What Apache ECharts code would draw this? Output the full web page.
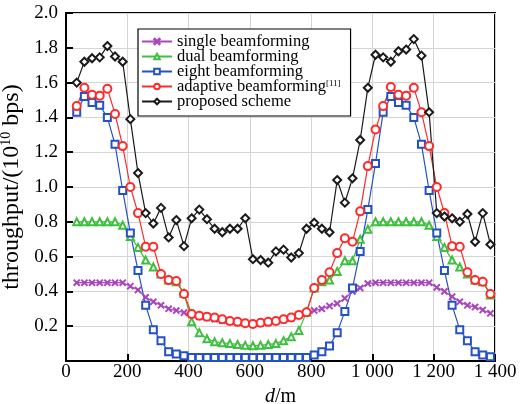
<!DOCTYPE html>
<html>
<head>
<meta charset="utf-8">
<script src="https://cdn.jsdelivr.net/npm/echarts@6/dist/echarts.min.js"></script>
<style>
  html, body { margin: 0; padding: 0; background: #fff; }
  #chart { width: 520px; height: 404px; }
</style>
</head>
<body>
<div id="chart"></div>
<script>
// distance d (m) of every sample
const distances = [35, 60, 85, 110, 135, 160, 185, 210, 235, 260, 285, 310, 335, 360, 385,
  410, 435, 460, 485, 510, 535, 560, 585, 610, 635, 660, 685, 710, 735, 760, 785,
  810, 835, 860, 885, 910, 935, 960, 985, 1010, 1035, 1060, 1085, 1110, 1135, 1160,
  1185, 1210, 1235, 1260, 1285, 1310, 1335, 1360, 1385];

const singleBf = [0.45, 0.45, 0.45, 0.45, 0.45, 0.45, 0.45, 0.43, 0.408, 0.366, 0.34, 0.32, 0.30, 0.29, 0.278,
  0.265, 0.255, 0.248, 0.24, 0.232, 0.225, 0.22, 0.215, 0.212, 0.215, 0.22, 0.226, 0.235, 0.245, 0.26, 0.275,
  0.29, 0.30, 0.316, 0.33, 0.36, 0.40, 0.42, 0.445,
  0.45, 0.45, 0.45, 0.45, 0.45, 0.45, 0.45, 0.45, 0.423, 0.40, 0.37, 0.34, 0.32, 0.31, 0.293, 0.274];

const dualBf = [0.80, 0.80, 0.80, 0.80, 0.80, 0.80, 0.78, 0.715, 0.653, 0.58, 0.54, 0.50, 0.465, 0.455, 0.39,
  0.226, 0.163, 0.128, 0.11, 0.105, 0.10, 0.095, 0.09, 0.088, 0.09, 0.095, 0.10, 0.117, 0.14, 0.176, 0.28,
  0.42, 0.455, 0.465, 0.515, 0.576, 0.576, 0.70, 0.757,
  0.80, 0.80, 0.80, 0.80, 0.80, 0.80, 0.80, 0.78, 0.715, 0.653, 0.58, 0.54, 0.50, 0.465, 0.455, 0.38];

const eightBf = [1.43, 1.52, 1.485, 1.47, 1.40, 1.245, 0.98, 0.735, 0.52, 0.32, 0.18, 0.117, 0.053, 0.04, 0.03,
  0.02, 0.02, 0.02, 0.02, 0.02, 0.02, 0.02, 0.02, 0.02, 0.02, 0.02, 0.02, 0.02, 0.02, 0.02, 0.02,
  0.035, 0.053, 0.086, 0.163, 0.285, 0.42, 0.63, 0.87, 1.135,
  1.43, 1.52, 1.485, 1.47, 1.40, 1.245, 0.98, 0.735, 0.52, 0.32, 0.18, 0.117, 0.053, 0.035, 0.025];

const adaptiveBf = [1.465, 1.57, 1.53, 1.525, 1.565, 1.42, 1.235, 1.0, 0.85, 0.657, 0.657, 0.50, 0.465, 0.46, 0.385,
  0.27, 0.26, 0.255, 0.25, 0.24, 0.23, 0.225, 0.217, 0.213, 0.22, 0.225, 0.23, 0.24, 0.25, 0.265, 0.28,
  0.42, 0.465, 0.51, 0.62, 0.705, 0.685, 0.86, 1.12, 1.33,
  1.465, 1.575, 1.53, 1.525, 1.57, 1.43, 1.235, 1.0, 0.85, 0.66, 0.657, 0.51, 0.465, 0.455, 0.385];

const proposed = [1.60, 1.72, 1.74, 1.745, 1.81, 1.75, 1.72, 1.39, 1.08, 0.85, 0.79, 0.88, 0.71, 0.81, 0.66,
  0.82, 0.87, 0.815, 0.76, 0.74, 0.76, 0.76, 0.82, 0.585, 0.58, 0.565, 0.63, 0.64, 0.595, 0.62, 0.76,
  0.795, 0.76, 0.74, 1.04, 0.91, 1.05, 1.27, 1.57, 1.76, 1.745, 1.72, 1.78, 1.79, 1.85, 1.755,
  1.43, 0.85, 0.83, 0.82, 0.80, 0.845, 0.685, 0.85, 0.67];

const seriesNames = ['single beamforming', 'dual beamforming', 'eight beamforming',
  'adaptive beamforming', 'proposed scheme'];
const xTickLabels = ['0', '200', '400', '600', '800', '1 000', '1 200', '1 400'];
const yTickLabels = ['', '0.2', '0.4', '0.6', '0.8', '1.0', '1.2', '1.4', '1.6', '1.8', '2.0'];

const FONT = '"Liberation Serif", "DejaVu Serif", serif';
const crossPath = 'path://M0,1L1,0L5,4L9,0L10,1L6,5L10,9L9,10L5,6L1,10L0,9L4,5Z';

const pairs = ys => distances.map((d, i) => [d, ys[i]]);

function lineSeries(name, ys, color, symbol, size) {
  return {
    name: name,
    type: 'line',
    data: pairs(ys),
    symbol: symbol,
    symbolSize: size,
    color: color,
    lineStyle: {width: 1.2, color: color},
    itemStyle: {color: color, borderColor: color, borderWidth: 1.1},
    animation: false
  };
}

const chart = echarts.init(document.getElementById('chart'));
chart.setOption({
  backgroundColor: '#fff',
  animation: false,
  textStyle: {fontFamily: FONT},
  grid: {
    left: 66, right: 25, top: 13, bottom: 43,
    outerBoundsMode: 'none',
    containLabel: false,
    show: true, borderColor: '#000', borderWidth: 2
  },
  legend: {
    orient: 'vertical',
    left: 138, top: 29,
    padding: [4, 10, 6, 3],
    itemGap: -2,
    itemWidth: 30,
    itemHeight: 7,
    backgroundColor: '#fff',
    borderColor: '#000',
    borderWidth: 1.2,
    borderRadius: 0,
    data: seriesNames,
    formatter: name => name === 'adaptive beamforming'
      ? '{t|' + name + '}{s|[11]}'
      : '{t|' + name + '}',
    textStyle: {
      color: '#000',
      fontFamily: FONT,
      rich: {
        t: {fontSize: 16.5, lineHeight: 14, fontFamily: FONT, color: '#000'},
        s: {fontSize: 9, lineHeight: 9, verticalAlign: 'top', fontFamily: FONT, color: '#000'}
      }
    }
  },
  xAxis: {
    type: 'value',
    min: 0, max: 1400, interval: 200,
    name: '{i|d}{n|/m}',
    nameLocation: 'middle',
    nameGap: 23,
    nameTextStyle: {
      rich: {
        i: {fontSize: 20, fontStyle: 'italic', fontFamily: FONT, color: '#000'},
        n: {fontSize: 20, fontFamily: FONT, color: '#000'}
      }
    },
    axisLine: {lineStyle: {color: '#000', width: 2}},
    axisTick: {inside: true, length: 7, lineStyle: {color: '#000', width: 2}},
    axisLabel: {
      color: '#000', fontSize: 19, fontFamily: FONT, margin: 2,
      formatter: v => xTickLabels[Math.round(v / 200)]
    },
    splitLine: {lineStyle: {color: '#d4d4d4', width: 1}}
  },
  yAxis: {
    type: 'value',
    min: 0, max: 2, interval: 0.2,
    name: '{n|throughput/(10}{s|10}{n| bps)}',
    nameLocation: 'middle',
    nameGap: 35,
    nameRotate: 90,
    nameTextStyle: {
      rich: {
        n: {fontSize: 24, lineHeight: 24, fontFamily: FONT, color: '#000'},
        s: {fontSize: 14, lineHeight: 14, verticalAlign: 'top', fontFamily: FONT, color: '#000'}
      }
    },
    axisLine: {lineStyle: {color: '#000', width: 2}},
    axisTick: {inside: true, length: 7, lineStyle: {color: '#000', width: 2}},
    axisLabel: {
      color: '#000', fontSize: 19, fontFamily: FONT, margin: 8,
      formatter: v => yTickLabels[Math.round(v / 0.2)]
    },
    splitLine: {lineStyle: {color: '#d4d4d4', width: 1}}
  },
  series: [
    lineSeries(seriesNames[0], singleBf, '#a945bd', crossPath, 6),
    lineSeries(seriesNames[1], dualBf, '#3fbf3f', 'emptyTriangle', 7),
    lineSeries(seriesNames[2], eightBf, '#2451c4', 'emptyRect', 7),
    lineSeries(seriesNames[3], adaptiveBf, '#ff2a2a', 'emptyCircle', 8),
    lineSeries(seriesNames[4], proposed, '#1a1a1a', 'emptyDiamond', 8)
  ]
});
</script>
</body>
</html>
